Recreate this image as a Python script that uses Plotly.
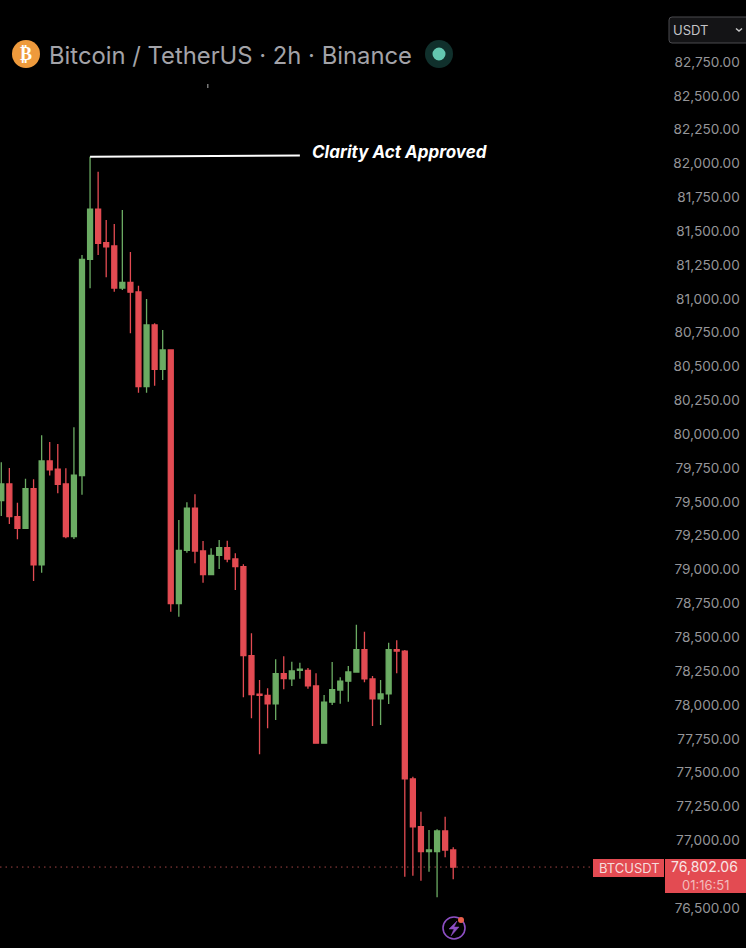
import plotly.graph_objects as go

index = list(range(57))
opens = [79509,79632,79391,79305,79598,79034,79802,79741,79632,79243,
         79694,81292,81662,81415,81391,81080,81122,81051,80351,80807,
         80480,80622,78748,79142,79453,79137,78962,79105,79162,79078,
         79021,78364,78080,78070,78007,78231,78192,78255,78255,78140,
         77717,78020,78110,78175,78243,78408,78192,78044,78081,78408,
         78398,77453,77100,76916,76916,77069,76928]
highs = [79793,79750,79494,79671,79667,79992,79943,79928,79748,80051,
         81324,82050,81940,81583,81553,81657,81346,81097,80999,80819,
         80770,80627,79366,79497,79556,79211,79157,79219,79213,79120,
         79039,78529,78184,78123,78337,78359,78319,78312,78273,78234,
         78073,78317,78204,78288,78593,78541,78214,78184,78460,78478,
         78406,77470,77211,77076,77081,77174,76948]
lows = [79396,79337,79224,79305,78916,78977,79694,79564,79231,79226,
        79553,81078,81324,81159,81053,81066,80746,80307,80307,80358,
        80401,78689,78652,79125,79046,78903,78962,79004,79054,78849,
        78056,77901,77635,77827,77889,78116,78140,78194,78120,77717,
        77717,77999,78009,78024,78243,78167,77844,77852,78007,78234,
        76731,76738,76701,76768,76579,76874,76712]
closes = [79632,79391,79305,79598,79034,79802,79736,79630,79243,79697,
          81292,81662,81411,81385,81080,81122,81049,80351,80807,80480,
          80622,78748,79142,79453,79137,78962,79105,79162,79078,79021,
          78364,78076,78070,78007,78231,78194,78251,78265,78140,77717,
          78020,78113,78175,78243,78408,78192,78044,78081,78408,78398,
          77453,77100,76916,76928,77069,76928,76802]

tick_values = [82750 - 250 * k for k in range(26)]
tick_labels = [f"{v:,.2f}" for v in tick_values]
last_price = 76802.06
annotation_price = 82050

GREEN = "#6bab63"
RED = "#e34b52"
W, H = 746, 948


def px(x):
    return x / W


def py(y):
    return 1 - y / H


def circle(cx, cy, r, fill, line=None, lw=0):
    return dict(type="circle", xref="paper", yref="paper", x0=px(cx - r), x1=px(cx + r),
                y0=py(cy + r), y1=py(cy - r), fillcolor=fill, layer="above",
                line=dict(color=line or fill, width=lw))


def rect(x0, y0, x1, y1, fill):
    return dict(type="rect", xref="paper", yref="paper", x0=px(x0), x1=px(x1),
                y0=py(y1), y1=py(y0), fillcolor=fill, line=dict(width=0), layer="above")


def polyline(points, color=None, width=1.5, fill=None, close=False):
    d = "M " + " L ".join(f"{px(a):.5f},{py(b):.5f}" for a, b in points) + (" Z" if close else "")
    return dict(type="path", xref="paper", yref="paper", path=d, layer="above",
                fillcolor=fill or "rgba(0,0,0,0)", line=dict(color=color or "rgba(0,0,0,0)", width=width))


def text(x, y, s, size, color, anchor="left", family="Inter", **kw):
    return dict(xref="paper", yref="paper", x=px(x), y=py(y), text=s, showarrow=False,
                xanchor=anchor, yanchor="middle", align=anchor,
                font=dict(size=size, color=color, family=family, **kw))


fig = go.Figure(go.Candlestick(
    x=index, open=opens, high=highs, low=lows, close=closes,
    increasing=dict(line=dict(color=GREEN, width=1.3), fillcolor=GREEN),
    decreasing=dict(line=dict(color=RED, width=1.3), fillcolor=RED),
    whiskerwidth=0, hoverinfo="skip",
))

shapes = [
    dict(type="line", xref="paper", yref="y", x0=0, x1=px(593), y0=last_price, y1=last_price,
         line=dict(color="#a04444", width=1, dash="1.5px,4px"), layer="below"),
    dict(type="line", xref="x", yref="y", x0=11, x1=37, y0=annotation_price, y1=annotation_price + 10,
         line=dict(color="#ffffff", width=2), layer="above"),
    circle(26, 54, 14, "#ee9a3c"),
    circle(439, 54, 14, "#10302c"),
    circle(439, 54, 6.5, "#63c7b0"),
    rect(207, 84, 208.5, 88, "#777777"),
    dict(type="path", xref="paper", yref="paper", layer="above", fillcolor="#141416",
         line=dict(color="#4b4b4f", width=1),
         path=(f"M {px(750)},{py(17)} L {px(672)},{py(17)} Q {px(669)},{py(17)} {px(669)},{py(20)} "
               f"L {px(669)},{py(40)} Q {px(669)},{py(43)} {px(672)},{py(43)} L {px(750)},{py(43)} Z")),
    polyline([(736, 28.5), (739, 31), (742, 28.5)], color="#c8c8c8", width=1.5),
    rect(593, 859, 664, 877, RED),
    rect(665, 859, 746, 893, RED),
    circle(454, 928, 11, "rgba(0,0,0,0)", line="#8d4fc4", lw=1.6),
    polyline([(457, 921), (449, 929), (454, 929), (451, 936), (459, 927), (454, 927)],
             fill="#8d4fc4", close=True, width=0.5, color="#8d4fc4"),
    circle(461, 920, 3, "#e8604c"),
]

annotations = [
    text(46.5, 55, "Bitcoin / TetherUS · 2h · Binance", 23.8, "#a3a3a8"),
    text(26, 54, "₿", 18, "#ffffff", anchor="center", family="DejaVu Sans", weight="bold"),
    text(310, 152, "Clarity Act Approved", 17, "#ffffff", style="italic", weight="bold"),
    text(671, 30, "USDT", 13, "#c4c4c6"),
    text(629, 868, "BTCUSDT", 13, "#f6dcdc", anchor="center"),
    text(740, 866, f"{last_price:,.2f}", 14, "#f8e6e6", anchor="right"),
    text(732, 885, "01:16:51", 13, "#f2bcbc", anchor="right"),
]

fig.update_layout(
    width=W, height=H, margin=dict(l=0, r=0, t=0, b=0),
    paper_bgcolor="#000000", plot_bgcolor="#000000",
    showlegend=False, boxgap=0.12,
    shapes=shapes, annotations=annotations,
    xaxis=dict(range=[-0.16, 92.28], visible=False, rangeslider=dict(visible=False), fixedrange=True),
    yaxis=dict(range=[76204, 83208], side="right", showgrid=False, zeroline=False, showline=False,
               tickmode="array", tickvals=tick_values, ticktext=tick_labels,
               ticks="inside", ticklen=6, tickcolor="rgba(0,0,0,0)",
               ticklabelposition="inside", tickfont=dict(family="Inter", size=13.6, color="#959598"),
               fixedrange=True),
)

fig.write_html("out.html", config=dict(displayModeBar=False),
               post_script="document.body.style.margin='0';document.body.style.background='#000';")
